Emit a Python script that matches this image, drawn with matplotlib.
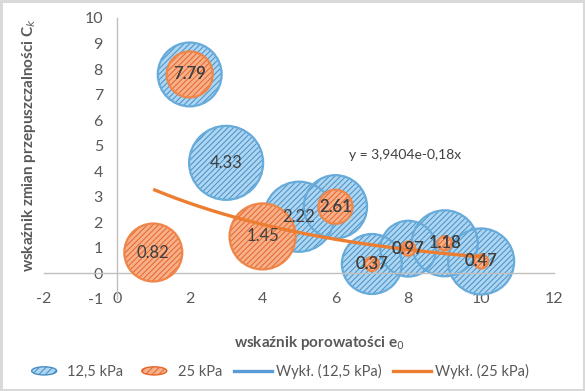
import matplotlib
matplotlib.use("Agg")
import matplotlib.pyplot as plt
import numpy as np
from matplotlib.legend_handler import HandlerPatch
from matplotlib.patches import Ellipse, Patch
from matplotlib.lines import Line2D

# ---- data ----
x_125 = [2, 3, 5, 6, 7, 8, 9, 10]
y_125 = [7.79, 4.33, 2.22, 2.61, 0.37, 0.97, 1.18, 0.47]
size_125 = [10.2, 13.7, 12.3, 10.0, 9.0, 7.8, 10.9, 10.9]

x_25 = [1, 2, 4, 6, 7, 8, 9, 10]
y_25 = [0.82, 7.79, 1.45, 2.61, 0.37, 0.97, 1.18, 0.47]
size_25 = [8.4, 5.3, 10.9, 2.9, 0.5, 0.5, 0.5, 0.5]

trend_a = 3.9404
trend_b = -0.18
equation_text = "y = 3,9404e-0,18x"

series_labels = ["12,5 kPa", "25 kPa", "Wykł. (12,5 kPa)", "Wykł. (25 kPa)"]
xlabel = "wskaźnik porowatości e$_0$"
ylabel = "wskaźnik zmian przepuszczalności C$_k$"
xticks = [-2, 0, 2, 4, 6, 8, 10, 12]
yticks = [-1, 0, 1, 2, 3, 4, 5, 6, 7, 8, 9, 10]

# ---- style ----
plt.rcParams['font.family'] = ['Lato', 'DejaVu Sans']
plt.rcParams['hatch.linewidth'] = 0.7
plt.rcParams['axes.unicode_minus'] = False

blue_fill = "#acd6f2"
blue_hatch = "#4a8ec4"
blue_edge = "#67abdb"
orange_fill = "#f7b08a"
orange_hatch = "#e5652a"
orange_edge = "#ee8549"
line_blue = "#5b9bd5"
line_orange = "#ed7d31"
text_gray = "#595959"
label_gray = "#404040"

fig = plt.figure(figsize=(5.85, 3.91), dpi=100, facecolor="white",
                 edgecolor="#d9d9d9", linewidth=2.5)
ax = fig.add_axes([0.0752, 0.2353, 0.8718, 0.7187])

max_size = max(max(size_125), max(size_25))
max_r_px = 37.0
def to_s(vals):
    vals = np.asarray(vals, dtype=float)
    r = max_r_px * np.sqrt(vals / max_size)
    return (2 * r * 0.72) ** 2

s125 = to_s(size_125)
s25 = to_s(size_25)

# blue bubbles
ax.scatter(x_125, y_125, s=s125, facecolor=blue_fill, edgecolor=blue_hatch,
           hatch="//////", linewidth=0, zorder=2)
ax.scatter(x_125, y_125, s=s125, facecolor="none", edgecolor=blue_edge,
           linewidth=1.6, zorder=2.1)
# orange bubbles
ax.scatter(x_25, y_25, s=s25, facecolor=orange_fill, edgecolor=orange_hatch,
           hatch="//////", linewidth=0, zorder=3)
ax.scatter(x_25, y_25, s=s25, facecolor="none", edgecolor=orange_edge,
           linewidth=1.6, zorder=3.1)

# trendline (25 kPa)
xt = np.linspace(min(x_25), max(x_25), 200)
ax.plot(xt, trend_a * np.exp(trend_b * xt), color=line_orange, lw=2.4, zorder=4,
        solid_capstyle="butt")

# data labels
for xs, ys in ((x_125, y_125), (x_25, y_25)):
    for xv, yv in zip(xs, ys):
        ax.text(xv, yv, f"{yv:.2f}", ha="center", va="center", fontsize=12,
                color=label_gray, zorder=5)

ax.text(7.9, 4.63, equation_text, ha="center", va="center", fontsize=10,
        color=label_gray, zorder=5)

ax.set_xlim(-2, 12)
ax.set_ylim(-1, 10)
ax.set_xticks(xticks)
ax.set_yticks(yticks)
ax.spines['left'].set_position(('data', 0))
ax.spines['bottom'].set_position(('data', 0))
for sp in ('top', 'right'):
    ax.spines[sp].set_visible(False)
for sp in ('left', 'bottom'):
    ax.spines[sp].set_color("#bfbfbf")
    ax.spines[sp].set_linewidth(1.0)
ax.tick_params(axis='both', length=0, labelsize=11.5, labelcolor=text_gray)
ax.tick_params(axis='x', pad=13)
ax.tick_params(axis='y', pad=10)
ax.patch.set_alpha(0)

fig.text(0.545, 0.123, xlabel, ha="center", va="center", fontsize=11,
         fontweight="bold", color=text_gray)
fig.text(0.05, 0.63, ylabel, ha="center", va="center", rotation=90,
         fontsize=11, fontweight="bold", color=text_gray)

class HandlerEllipse(HandlerPatch):
    def create_artists(self, legend, orig_handle, xdescent, ydescent, width,
                       height, fontsize, trans):
        center = (0.5 * width - xdescent, 0.5 * height - ydescent)
        p = Ellipse(xy=center, width=width * 0.66, height=height * 0.8)
        self.update_prop(p, orig_handle, legend)
        p.set_transform(trans)
        return [p]

h1 = Patch(facecolor=blue_fill, edgecolor=blue_hatch, hatch="/////", linewidth=1)
h2 = Patch(facecolor=orange_fill, edgecolor=orange_hatch, hatch="/////", linewidth=1)
h3 = Line2D([], [], color=line_blue, lw=2.4)
h4 = Line2D([], [], color=line_orange, lw=2.4)
leg = fig.legend([h1, h2, h3, h4], series_labels, ncol=4, loc="center",
                 bbox_to_anchor=(0.474, 0.05), frameon=False, fontsize=10.5,
                 handlelength=2.6, handletextpad=0.3, columnspacing=0.8,
                 handler_map={Patch: HandlerEllipse()})
for t in leg.get_texts():
    t.set_color(text_gray)

fig.savefig("out.png", dpi=100, facecolor=fig.get_facecolor(),
            edgecolor=fig.get_edgecolor())
